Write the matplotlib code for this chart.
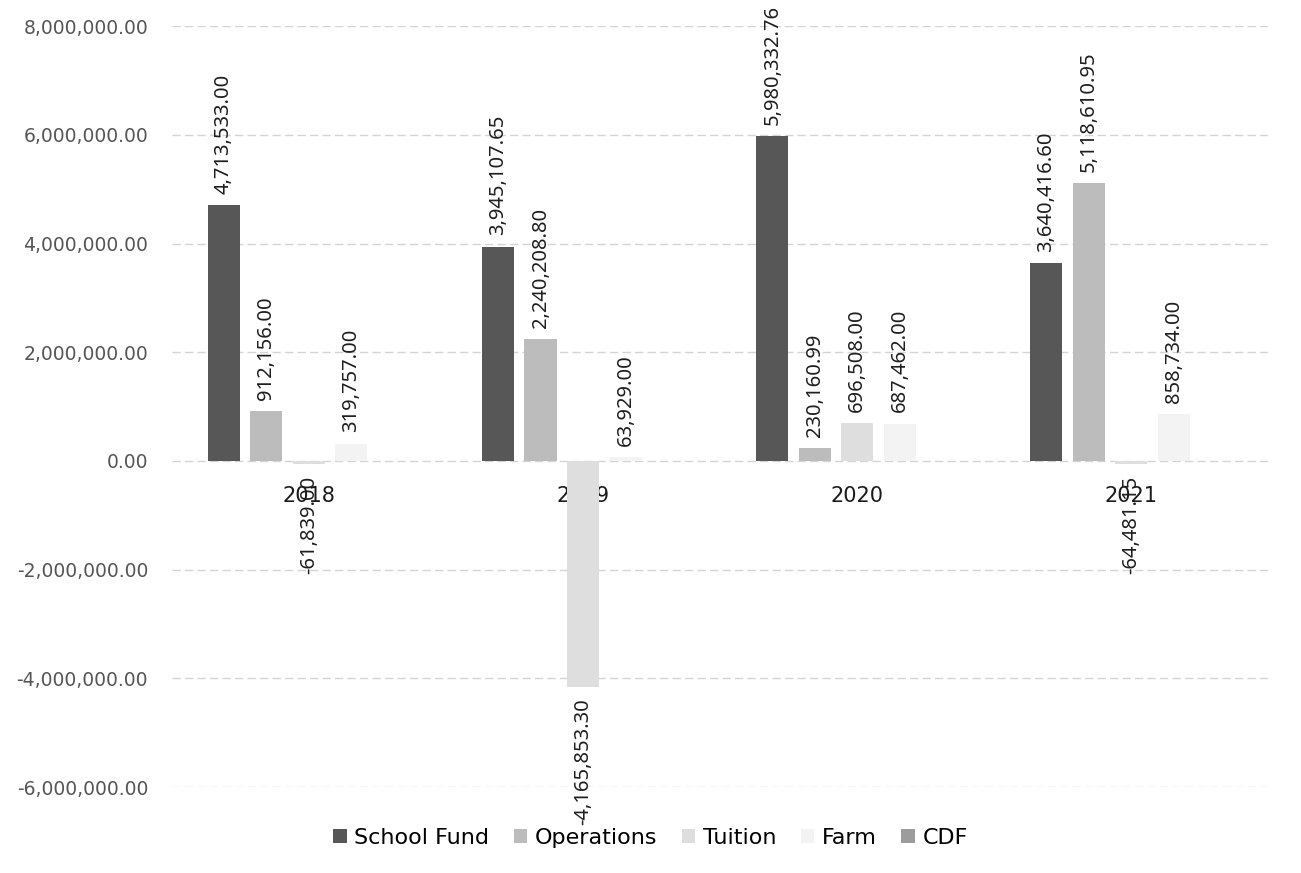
import numpy as np
import matplotlib.pyplot as plt

years = ['2018', '2019', '2020', '2021']
series = ['School Fund', 'Operations', 'Tuition', 'Farm', 'CDF']
school_fund = [4713533.00, 3945107.65, 5980332.76, 3640416.60]
operations = [912156.00, 2240208.80, 230160.99, 5118610.95]
tuition = [-61839.00, -4165853.30, 696508.00, -64481.15]
farm = [319757.00, 63929.00, 687462.00, 858734.00]
cdf = [np.nan, np.nan, np.nan, np.nan]

colors = ['#575757', '#bcbcbc', '#dedede', '#f3f3f3', '#9c9c9c']


def main():
    fig = plt.figure(figsize=(13.01, 8.73), dpi=100)
    ax = fig.add_axes([0.132, 0.0985, 0.843, 0.8715])

    x = np.arange(len(years))
    step = 0.155
    width = 0.117
    values = [school_fund, operations, tuition, farm, cdf]

    for i, (name, vals, col) in enumerate(zip(series, values, colors)):
        bars = ax.bar(x + (i - 2) * step, vals, width, color=col, label=name, zorder=2)
        labels = ['' if np.isnan(v) else '{:,.2f}'.format(v) for v in vals]
        ax.bar_label(bars, labels=labels, padding=8, rotation=90,
                     fontsize=14.5, color='#1e1e1e', family='Noto Sans')

    ax.set_ylim(-6000000, 8000000)
    ax.set_xlim(-0.5, len(years) - 0.5)
    ax.set_yticks(np.arange(-6000000, 8000001, 2000000))
    ax.set_yticklabels(['{:,.2f}'.format(v) for v in ax.get_yticks()], fontsize=13.5, color='#555555')
    ax.tick_params(axis='y', length=0, pad=17)

    # category labels sit on the zero line
    ax.spines['bottom'].set_position(('data', 0))
    ax.set_xticks(x)
    ax.set_xticklabels(years, fontsize=15, color='#1a1a1a')
    ax.tick_params(axis='x', length=0, pad=18)
    for s in ax.spines.values():
        s.set_visible(False)

    ax.grid(axis='y', color='#d4d4d4', linewidth=1, linestyle=(0, (6, 3)))
    ax.set_axisbelow(True)

    fig.legend(loc='center', bbox_to_anchor=(0.5, 0.04), ncol=5, frameon=False,
               handlelength=0.6, handleheight=0.6, handletextpad=0.35,
               columnspacing=1.1, prop={'family': 'DejaVu Sans', 'size': 16})

    fig.savefig('out.png', dpi=100)


if __name__ == "__main__":
    main()
